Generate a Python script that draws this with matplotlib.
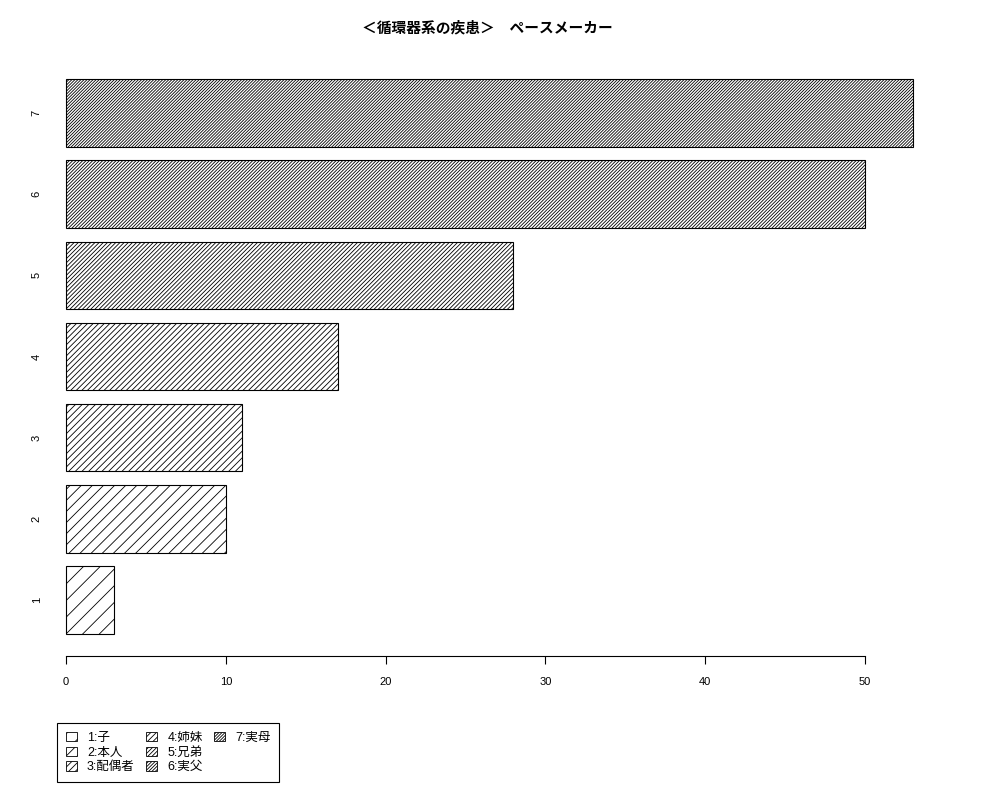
import matplotlib
matplotlib.use("Agg")
import matplotlib.pyplot as plt

# bar values (bottom to top)
categories = ["1", "2", "3", "4", "5", "6", "7"]
counts = [3, 10, 11, 17, 28, 50, 53]
legend_labels = ["1:子", "2:本人", "3:配偶者", "4:姉妹", "5:兄弟", "6:実父", "7:実母"]
x_ticks = [0, 10, 20, 30, 40, 50]
title = "＜循環器系の疾患＞　ペースメーカー"

# hatch repeat count per bar, approximating R's density = 5, 10, ..., 35
hatch_reps = [2, 3, 5, 6, 8, 10, 11]

plt.rcParams['font.family'] = ['Liberation Sans', 'Noto Sans CJK JP', 'DejaVu Sans']
plt.rcParams['hatch.linewidth'] = 0.6
plt.rcParams['hatch.color'] = 'black'

fig = plt.figure(figsize=(10, 8), dpi=100)
ax = fig.add_axes([0.0321, 0.1801, 0.9148, 0.7485])

# R style barplot: width 1, space 0.2
width = 1.0
space = 0.2
centers = [space + width / 2 + i * (width + space) for i in range(len(counts))]
hatches = ['/' * n for n in hatch_reps]

bars = ax.barh(centers, counts, height=width, color='white',
               edgecolor='black', linewidth=0.8)
for b, h in zip(bars, hatches):
    b.set_hatch(h)

lo = space
hi = centers[-1] + width / 2
pad = 0.04 * (hi - lo)
ax.set_ylim(lo - pad, hi + pad)
xmax = max(counts)
ax.set_xlim(-0.04 * xmax, xmax * 1.04)

ax.set_yticks(centers)
ax.set_yticklabels(categories, rotation=90, va='center', fontsize=8)
ax.tick_params(axis='y', length=0, pad=-7)

ax.set_xticks(x_ticks)
ax.set_xticklabels([str(t) for t in x_ticks], fontsize=8)
ax.tick_params(axis='x', length=6, width=0.8, direction='out', pad=9)

for side in ['top', 'right', 'left']:
    ax.spines[side].set_visible(False)
ax.spines['bottom'].set_bounds(x_ticks[0], x_ticks[-1])
ax.spines['bottom'].set_linewidth(0.8)

fig.text(0.4875, 0.965, title, ha='center', va='center',
         fontsize=10.6, fontweight='bold')

# legend handles mirroring the bar hatching; two blank slots so the
# columns fill 3, 3, 1 like R's legend
handles = [plt.Rectangle((0, 0), 1, 1, facecolor='white', edgecolor='black',
                         linewidth=0.6, hatch=h) for h in hatches]
labels = list(legend_labels)
for _ in range(2):
    handles.append(plt.Rectangle((0, 0), 1, 1, visible=False))
    labels.append("")
leg = fig.legend(handles, labels, loc='lower left',
                 bbox_to_anchor=(0.057, 0.0225), ncol=3, fontsize=9,
                 fancybox=False, framealpha=1, edgecolor='black',
                 handlelength=0.9, handleheight=0.8, handletextpad=0.8,
                 columnspacing=0.9, labelspacing=0.2, borderpad=0.7,
                 borderaxespad=0)
leg.get_frame().set_linewidth(0.8)

fig.savefig("out.png", dpi=100)
